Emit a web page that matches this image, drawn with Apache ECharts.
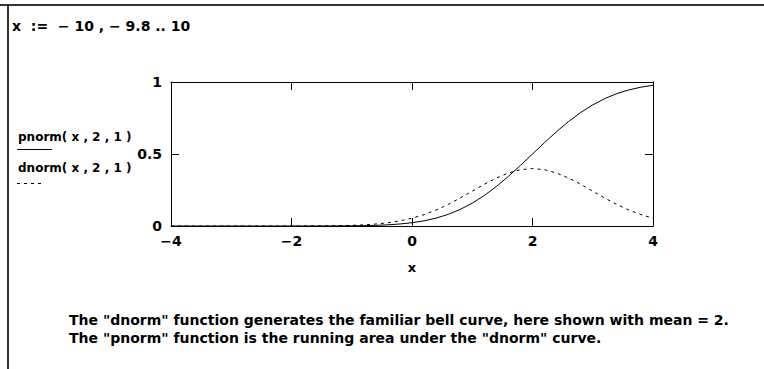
<!DOCTYPE html>
<html><head><meta charset="utf-8">
<script src="https://cdn.jsdelivr.net/npm/echarts@6/dist/echarts.min.js"></script>
<style>html,body{margin:0;padding:0;background:#fff}#c{width:764px;height:369px}</style>
</head><body><div id="c"></div>
<script>
// x = -4 .. 4 step 0.2 (visible part of x := -10, -9.8 .. 10)
const xValues = [-4,-3.8,-3.6,-3.4,-3.2,-3,-2.8,-2.6,-2.4,-2.2,-2,-1.8,-1.6,-1.4,-1.2,-1,-0.8,-0.6,-0.4,-0.2,0,0.2,0.4,0.6,0.8,1,1.2,1.4,1.6,1.8,2,2.2,2.4,2.6,2.8,3,3.2,3.4,3.6,3.8,4];
const pnormValues = [0,0,0,0,0,0,0,0,0,0,0.00003,0.00007,0.00016,0.00034,0.00069,0.00135,0.00256,0.00466,0.0082,0.0139,0.0228,0.0359,0.0548,0.0808,0.1151,0.1587,0.2119,0.2743,0.3446,0.4207,0.5,0.5793,0.6554,0.7257,0.7881,0.8413,0.8849,0.9192,0.9452,0.9641,0.9772];
const dnormValues = [0,0,0,0,0,0,0,0,0,0.00001,0.00013,0.00029,0.00061,0.00123,0.00238,0.00443,0.00792,0.01358,0.02239,0.03547,0.05399,0.07895,0.1109,0.1497,0.1942,0.2420,0.2897,0.3332,0.3683,0.3910,0.3989,0.3910,0.3683,0.3332,0.2897,0.2420,0.1942,0.1497,0.1109,0.0790,0.0540];
const xTicks = [-4,-2,0,2,4];
const yTicks = [0,0.5,1];
const headerText = 'x  :=  \u2212 10 , \u2212 9.8 .. 10';
const legendNames = ['pnorm( x , 2 , 1 )','dnorm( x , 2 , 1 )'];
const xName = 'x';
const noteLines = ['The "dnorm" function generates the familiar bell curve, here shown with mean = 2.',
                   'The "pnorm" function is the running area under the "dnorm" curve.'];

const F = '"DejaVu Sans", Verdana, sans-serif';
const chart = echarts.init(document.getElementById('c'), null, {renderer:'svg'});
const pts = (ys) => xValues.map((x,i)=>[x, ys[i]]);
const tick = {show:true, inside:true, length:8, lineStyle:{color:'#000', width:1}};
const line = {show:true, onZero:false, lineStyle:{color:'#000', width:1}};
chart.setOption({
  animation:false,
  grid:{left:171, right:111, top:82, bottom:143, show:false},
  xAxis:[
    {type:'value', min:-4, max:4, interval:2, position:'bottom', axisLine:line, splitLine:{show:false},
      name:xName, nameLocation:'middle', nameGap:35,
      nameTextStyle:{color:'#000', fontFamily:F, fontWeight:'bold', fontSize:13},
      axisTick:tick,
      axisLabel:{color:'#000', fontFamily:F, fontWeight:'bold', fontSize:14, margin:8,
        formatter:(v)=> xTicks.includes(v) ? String(v).replace('-','\u2212') : ''}},
    {type:'value', min:-4, max:4, interval:2, position:'top', axisLine:line, splitLine:{show:false},
      axisTick:tick, axisLabel:{show:false}}
  ],
  yAxis:[
    {type:'value', min:0, max:1, interval:0.5, position:'left', axisLine:line, splitLine:{show:false},
     axisTick:tick,
     axisLabel:{color:'#000', fontFamily:F, fontWeight:'bold', fontSize:14, margin:9,
       formatter:(v)=> yTicks.includes(v) ? String(v) : ''}},
    {type:'value', min:0, max:1, interval:0.5, position:'right', axisLine:line, splitLine:{show:false},
     axisTick:tick, axisLabel:{show:false}}
  ],
  series:[
    {name:legendNames[0], type:'line', data:pts(pnormValues), showSymbol:false, smooth:false,
     lineStyle:{color:'#000', width:1}, z:3},
    {name:legendNames[1], type:'line', data:pts(dnormValues), showSymbol:false, smooth:false,
     lineStyle:{color:'#000', width:1, type:[3,4]}, z:3}
  ],
  graphic:[
    {type:'line', shape:{x1:0,y1:5,x2:764,y2:5}, style:{stroke:'#333', lineWidth:2}},
    {type:'line', shape:{x1:8,y1:5,x2:8,y2:369}, style:{stroke:'#333', lineWidth:2}},
    {type:'text', left:12, top:19, style:{text:headerText, fill:'#000', font:'bold 14px '+F}},
    {type:'text', left:18, top:131, style:{text:legendNames[0], fill:'#000', font:'bold 12px '+F}},
    {type:'line', shape:{x1:17,y1:149.5,x2:52,y2:149.5}, style:{stroke:'#000', lineWidth:1}},
    {type:'text', left:18, top:162, style:{text:legendNames[1], fill:'#000', font:'bold 12px '+F}},
    {type:'line', shape:{x1:17,y1:183.5,x2:42,y2:183.5}, style:{stroke:'#000', lineWidth:1, lineDash:[3,4]}},
    {type:'text', left:69, top:313, style:{text:noteLines[0], fill:'#000', font:'bold 14px '+F}},
    {type:'text', left:69, top:331, style:{text:noteLines[1], fill:'#000', font:'bold 14px '+F}}
  ]
});
</script></body></html>
